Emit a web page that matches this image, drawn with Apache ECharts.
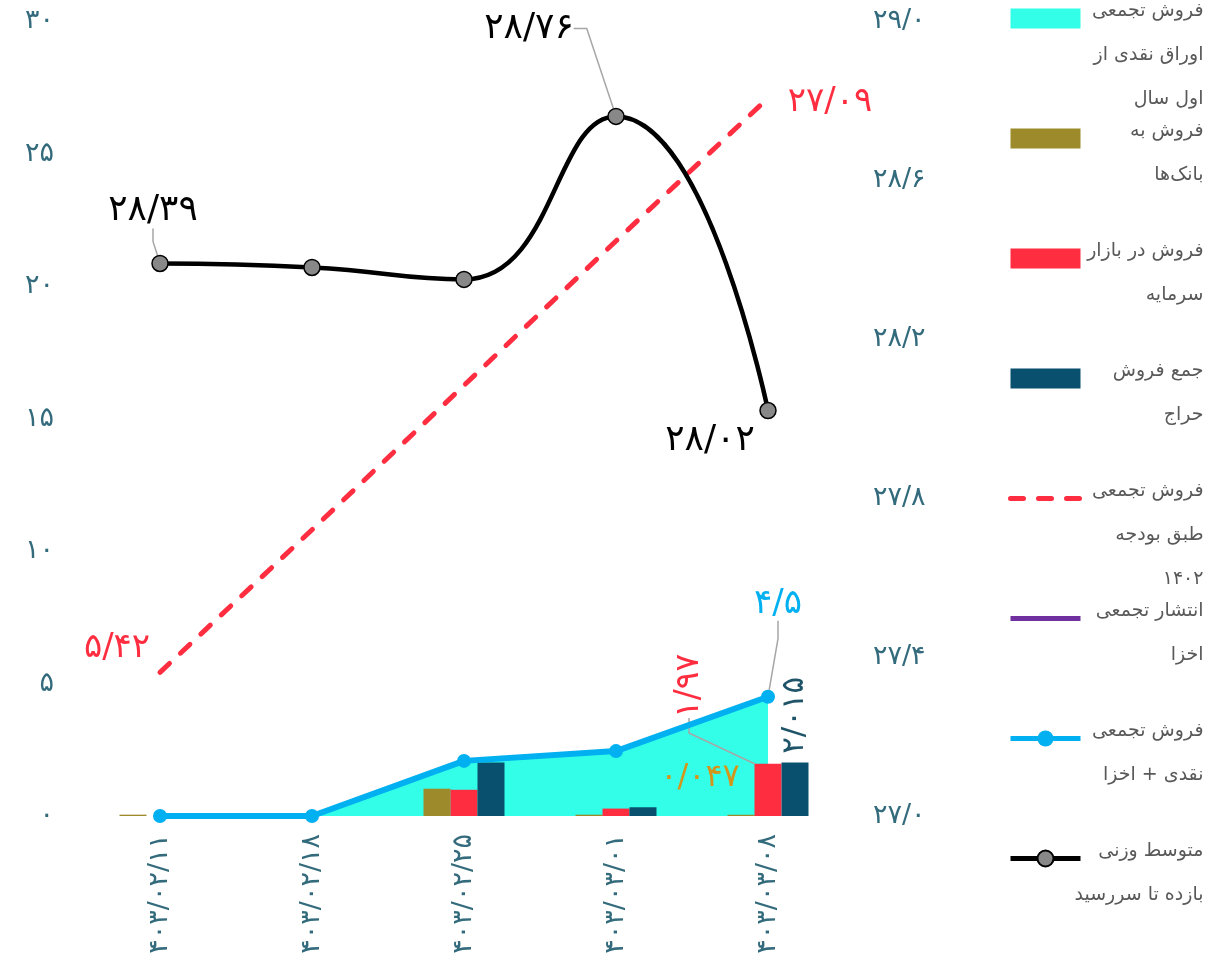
<!DOCTYPE html>
<html lang="fa">
<head>
<meta charset="utf-8">
<script src="https://cdn.jsdelivr.net/npm/echarts@6/dist/echarts.min.js"></script>
<style>
  html, body { margin: 0; padding: 0; background: #ffffff; }
  #chart { width: 1228px; height: 959px; }
</style>
</head>
<body>
<div id="chart"></div>
<script>
// Auction dates (Jalali)
const categories = ['۱۴۰۳/۰۲/۱۱', '۱۴۰۳/۰۲/۱۸', '۱۴۰۳/۰۲/۲۵', '۱۴۰۳/۰۳/۰۱', '۱۴۰۳/۰۳/۰۸'];

// Cumulative cash-securities sales since start of year (thousand billion)
const cashCumulative = [0, 0, 2.08, 2.45, 4.5];
// Sales to banks
const bankSales = [0.05, 0, 1.03, 0.05, 0.047];
// Sales in the capital market
const marketSales = [0, 0, 0.99, 0.28, 1.97];
// Total auction sales
const auctionTotal = [0, 0, 2.02, 0.33, 2.015];
// Cumulative sales according to the 1402 budget
const budgetCumulative = [5.42, 10.8, 16.25, 21.7, 27.09];
// Cumulative Akhza issuance
const akhzaCumulative = [];
// Cumulative cash + Akhza sales
const cashAkhzaCumulative = [0, 0, 2.08, 2.45, 4.5];
// Weighted average yield to maturity (%)
const ytmAverage = [28.39, 28.38, 28.35, 28.76, 28.02];

// Axis ranges
const leftAxisRange = { min: 0, max: 30, interval: 5 };
const rightAxisRange = { min: 27, max: 29, interval: 0.4 };

// Series names (line breaks as shown in the legend)
const seriesNames = {
  cash: 'فروش تجمعی\nاوراق نقدی از\nاول سال',
  banks: 'فروش به\nبانک‌ها',
  market: 'فروش در بازار\nسرمایه',
  auction: 'جمع فروش\nحراج',
  budget: 'فروش تجمعی\nطبق بودجه\n۱۴۰۲',
  akhza: 'انتشار تجمعی\nاخزا',
  cashAkhza: 'فروش تجمعی\nنقدی + اخزا',
  ytm: 'متوسط وزنی\nبازده تا سررسید'
};

const FONT = '"DejaVu Sans", sans-serif';
const AXIS_COLOR = '#336b7d';
const GUIDE = { lineStyle: { color: '#a6a6a6', width: 1.5 } };

const faDigits = '۰۱۲۳۴۵۶۷۸۹';
function fa(v, decimals) {
  const s = decimals == null ? String(v) : Number(v).toFixed(decimals);
  return s.replace(/[0-9]/g, d => faDigits[+d]).replace('.', '/');
}

// Build data items; only the listed indices carry a visible label / guide line
function labelled(values, shown, guided) {
  return values.map((v, i) => {
    if (!shown.includes(i)) return v;
    return {
      value: v,
      label: { show: true },
      labelLine: Object.assign({ show: (guided || []).includes(i) }, GUIDE)
    };
  });
}

// Label offsets (px, screen space) from the mark's centre, by data index
function shiftBy(shifts) {
  return params => {
    const s = shifts[params.dataIndex];
    return s ? { dx: s[0], dy: s[1] } : {};
  };
}
// Same, for labels rotated by 90deg (offsets are applied in the label's own frame)
function shiftRotated(shifts) {
  return params => {
    const s = shifts[params.dataIndex];
    return s ? { dx: -s[1], dy: s[0] } : {};
  };
}

const valueFmt = p => fa(p.value);

// Legend text: every entry occupies three lines so items are evenly spaced
const legendFmt = name => {
  const lines = name.split('\n');
  while (lines.length < 3) lines.push(' ');
  return lines.map(l => '{r|' + l + '}').join('\n');
};

const chart = echarts.init(document.getElementById('chart'), null, { renderer: 'canvas' });

const legendLine = { width: 5 };

chart.setOption({
  animation: false,
  textStyle: { fontFamily: FONT },
  grid: { left: 84, right: 384, top: 21, bottom: 143, outerBoundsMode: 'none', containLabel: false },
  legend: {
    orient: 'vertical',
    left: 1008,
    top: 2,
    padding: 0,
    itemGap: 13,
    itemWidth: 70,
    itemHeight: 20,
    selectedMode: false,
    align: 'left',
    formatter: legendFmt,
    textStyle: {
      width: 118,
      height: 58,
      rich: { r: { align: 'right', fontSize: 19, lineHeight: 44, color: '#595959', fontFamily: FONT } }
    },
    data: [
      { name: seriesNames.cash, icon: 'rect', itemStyle: { color: '#33ffe8' } },
      { name: seriesNames.banks, icon: 'rect' },
      { name: seriesNames.market, icon: 'rect' },
      { name: seriesNames.auction, icon: 'rect' },
      { name: seriesNames.budget, lineStyle: legendLine, itemStyle: { opacity: 0 } },
      { name: seriesNames.akhza, lineStyle: legendLine, itemStyle: { opacity: 0 } },
      { name: seriesNames.cashAkhza, lineStyle: legendLine },
      { name: seriesNames.ytm, lineStyle: legendLine }
    ]
  },
  xAxis: {
    type: 'category',
    data: categories,
    boundaryGap: true,
    axisLine: { show: false },
    axisTick: { show: false },
    axisLabel: { rotate: 90, margin: 18, fontSize: 27, color: AXIS_COLOR, fontFamily: FONT, interval: 0 }
  },
  yAxis: [
    {
      type: 'value',
      min: leftAxisRange.min, max: leftAxisRange.max, interval: leftAxisRange.interval,
      axisLine: { show: false }, axisTick: { show: false }, splitLine: { show: false },
      axisLabel: { margin: 30, fontSize: 27, color: AXIS_COLOR, fontFamily: FONT, formatter: v => fa(v) }
    },
    {
      type: 'value',
      min: rightAxisRange.min, max: rightAxisRange.max, interval: rightAxisRange.interval,
      axisLine: { show: false }, axisTick: { show: false }, splitLine: { show: false },
      axisLabel: { margin: 29, fontSize: 27, color: AXIS_COLOR, fontFamily: FONT, formatter: v => fa(v, 1) }
    }
  ],
  series: [
    {
      name: seriesNames.cash,
      type: 'line',
      data: cashCumulative,
      color: '#33ffe8',
      showSymbol: false,
      symbol: 'none',
      lineStyle: { width: 0 },
      areaStyle: { color: '#33ffe8', opacity: 1 },
      z: 1
    },
    {
      name: seriesNames.banks,
      type: 'bar',
      data: labelled(bankSales, [4]),
      barWidth: 27,
      barGap: '0%',
      itemStyle: { color: '#9c8a2b' },
      label: { show: false, position: 'inside', color: '#d4961a', fontSize: 32, fontFamily: FONT, formatter: valueFmt },
      labelLayout: shiftBy({ 4: [-41, -38] }),
      z: 2
    },
    {
      name: seriesNames.market,
      type: 'bar',
      data: labelled(marketSales, [4], [4]),
      barWidth: 27,
      barGap: '0%',
      itemStyle: { color: '#ff2d40' },
      label: { show: false, position: 'inside', rotate: 90, color: '#ff2d40', fontSize: 33, fontFamily: FONT, formatter: valueFmt },
      labelLine: Object.assign({ show: false, length2: 15 }, GUIDE),
      labelLayout: shiftRotated({ 4: [-79, -104] }),
      z: 2
    },
    {
      name: seriesNames.auction,
      type: 'bar',
      data: labelled(auctionTotal, [4]),
      barWidth: 27,
      barGap: '0%',
      itemStyle: { color: '#08506e' },
      label: { show: false, position: 'inside', rotate: 90, color: '#1f5468', fontSize: 31, fontFamily: FONT, formatter: valueFmt },
      labelLayout: shiftRotated({ 4: [0, -74] }),
      z: 2
    },
    {
      name: seriesNames.budget,
      type: 'line',
      data: labelled(budgetCumulative, [0, 4]),
      color: '#ff2d40',
      symbol: 'circle',
      symbolSize: 2,
      itemStyle: { color: 'rgba(0,0,0,0)' },
      lineStyle: { color: '#ff2d40', width: 5, type: [13, 15], cap: 'round' },
      label: { show: false, position: 'inside', color: '#ff2d40', fontSize: 34, fontFamily: FONT, formatter: valueFmt },
      labelLayout: shiftBy({ 0: [-43, -24], 4: [62, 4] }),
      z: 4
    },
    {
      name: seriesNames.akhza,
      type: 'line',
      data: akhzaCumulative,
      color: '#7030a0',
      showSymbol: false,
      lineStyle: { color: '#7030a0', width: 5 },
      z: 4
    },
    {
      name: seriesNames.cashAkhza,
      type: 'line',
      data: labelled(cashAkhzaCumulative, [4], [4]),
      color: '#00b0f0',
      symbol: 'circle',
      symbolSize: 14,
      itemStyle: { color: '#00b0f0' },
      lineStyle: { color: '#00b0f0', width: 6 },
      label: { show: false, position: 'inside', color: '#00b0f0', fontSize: 34, fontFamily: FONT, formatter: valueFmt },
      labelLine: Object.assign({ show: false, length2: 18 }, GUIDE),
      labelLayout: shiftBy({ 4: [10, -93] }),
      z: 5
    },
    {
      name: seriesNames.ytm,
      type: 'line',
      yAxisIndex: 1,
      data: labelled(ytmAverage, [0, 3, 4], [0, 3]),
      smooth: true,
      color: '#000000',
      symbol: 'circle',
      symbolSize: 16,
      itemStyle: { color: '#888888', borderColor: '#000000', borderWidth: 1.5 },
      lineStyle: { color: '#000000', width: 4.5 },
      label: { show: false, position: 'inside', color: '#000000', fontSize: 36, fontFamily: FONT, formatter: valueFmt },
      labelLine: Object.assign({ show: false, length2: 13 }, GUIDE),
      labelLayout: shiftBy({ 0: [-7, -53], 3: [-87, -88], 4: [-58, 30] }),
      z: 6
    }
  ]
});
</script>
</body>
</html>
